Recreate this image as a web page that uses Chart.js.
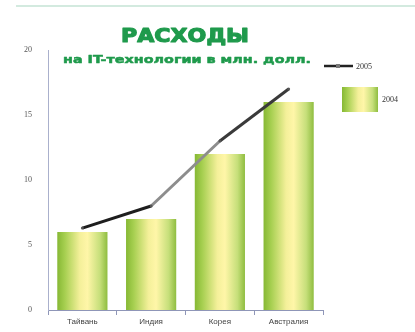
<!DOCTYPE html>
<html lang="ru">
<head>
<meta charset="UTF-8" />
<script src="https://cdn.jsdelivr.net/npm/chart.js"></script>
<style>
  html, body { margin: 0; padding: 0; background: #fff; }
  #wrap { width: 415px; height: 332px; }
</style>
</head>
<body>
<div id="wrap"><canvas id="rashody"></canvas></div>
<script>
// Расходы на IT-технологии, млн. долл.
const countries = ["Тайвань", "Индия", "Корея", "Австралия"];
const spend2004 = [6, 7, 12, 16];
const spend2005 = [6.3, 8, 13, 17];
const yTicks = [0, 5, 10, 15, 20];

const titleText = "РАСХОДЫ";
const subtitleText = "на IT-технологии в млн. долл.";
const green = "#1f9a4c";
const barShare = 0.73;

// зелёно-жёлтый "цилиндр" для столбиков
function barGradient(ctx, x0, x1) {
  const g = ctx.createLinearGradient(x0, 0, x1, 0);
  g.addColorStop(0, "#86b834");
  g.addColorStop(0.15, "#a6cf50");
  g.addColorStop(0.45, "#f4f09a");
  g.addColorStop(0.6, "#fff6a8");
  g.addColorStop(0.85, "#c6df7a");
  g.addColorStop(1, "#8fbd40");
  return g;
}

function barFill(c) {
  const chart = c.chart;
  const area = chart.chartArea;
  const xs = chart.scales.x;
  if (!area || !xs) return "#c9df6e";
  const cx = xs.getPixelForValue(c.dataIndex);
  const half = (area.width / countries.length) * barShare / 2;
  return barGradient(chart.ctx, cx - half, cx + half);
}

// жирный текст, растянутый по ширине
function fitText(ctx, text, cx, y, width, font, color, stroke) {
  ctx.save();
  ctx.font = font;
  ctx.fillStyle = color;
  ctx.strokeStyle = color;
  ctx.lineJoin = "round";
  ctx.textAlign = "center";
  ctx.textBaseline = "alphabetic";
  const w = ctx.measureText(text).width;
  ctx.translate(cx, y);
  ctx.scale(width / w, 1);
  ctx.fillText(text, 0, 0);
  if (stroke) {
    ctx.lineWidth = stroke;
    ctx.strokeText(text, 0, 0);
  }
  ctx.restore();
}

const decor = {
  id: "decor",
  beforeDraw(chart) {
    const ctx = chart.ctx;
    ctx.save();
    ctx.strokeStyle = "#d3eadf";
    ctx.lineWidth = 2;
    ctx.beginPath();
    ctx.moveTo(16, 6);
    ctx.lineTo(415, 6);
    ctx.stroke();
    ctx.restore();
  },
  afterDraw(chart) {
    const ctx = chart.ctx;
    fitText(ctx, titleText, 185, 42, 128, "bold 20px 'DejaVu Sans'", green, 1.2);
    fitText(ctx, subtitleText, 187, 63, 248, "bold 11px 'DejaVu Sans'", green, 0.5);

    // легенда
    ctx.save();
    ctx.strokeStyle = "#222";
    ctx.lineWidth = 2.5;
    ctx.beginPath();
    ctx.moveTo(324, 66);
    ctx.lineTo(353, 66);
    ctx.stroke();
    ctx.fillStyle = "#777";
    ctx.fillRect(336, 64, 4, 4);
    ctx.fillStyle = barGradient(ctx, 342, 378);
    ctx.fillRect(342, 87, 36, 25);
    ctx.fillStyle = "#333";
    ctx.font = "8px 'Liberation Serif'";
    ctx.textBaseline = "middle";
    ctx.fillText("2005", 356, 67);
    ctx.fillText("2004", 382, 100);
    ctx.restore();
  }
};

new Chart(document.getElementById("rashody"), {
  data: {
    labels: countries,
    datasets: [
      {
        type: "line",
        label: "2005",
        data: spend2005,
        borderColor: "#1e1e1e",
        borderWidth: 3,
        pointRadius: 1.5,
        pointBackgroundColor: "#555",
        pointBorderWidth: 0,
        tension: 0,
        segment: {
          borderColor: (c) => c.p0DataIndex === 1 ? "#8d8d8d" : (c.p0DataIndex === 2 ? "#3a3a3a" : "#1e1e1e")
        },
        order: 0
      },
      {
        type: "bar",
        label: "2004",
        data: spend2004,
        backgroundColor: barFill,
        borderWidth: 0,
        categoryPercentage: 1,
        barPercentage: barShare,
        order: 1
      }
    ]
  },
  options: {
    responsive: true,
    maintainAspectRatio: false,
    animation: false,
    layout: { padding: { top: 50, right: 92, bottom: 0, left: 0 } },
    plugins: {
      legend: { display: false },
      tooltip: { enabled: false }
    },
    scales: {
      x: {
        offset: true,
        grid: {
          offset: true,
          drawOnChartArea: false,
          drawTicks: true,
          tickLength: 5,
          color: "#8f96b8"
        },
        border: { color: "#8f96b8", width: 1 },
        ticks: {
          color: "#444",
          font: { family: "'Liberation Sans'", size: 8 },
          padding: 2
        },
        afterFit: (s) => { s.height = 22; }
      },
      y: {
        min: 0,
        max: 20,
        afterBuildTicks: (s) => { s.ticks = yTicks.map((v) => ({ value: v })); },
        grid: { display: false },
        border: { color: "#aab0cc", width: 1 },
        ticks: {
          color: "#555",
          font: { family: "'Liberation Serif'", size: 8 },
          padding: 8
        },
        afterFit: (s) => { s.width = 48; }
      }
    }
  },
  plugins: [decor]
});
</script>
</body>
</html>
